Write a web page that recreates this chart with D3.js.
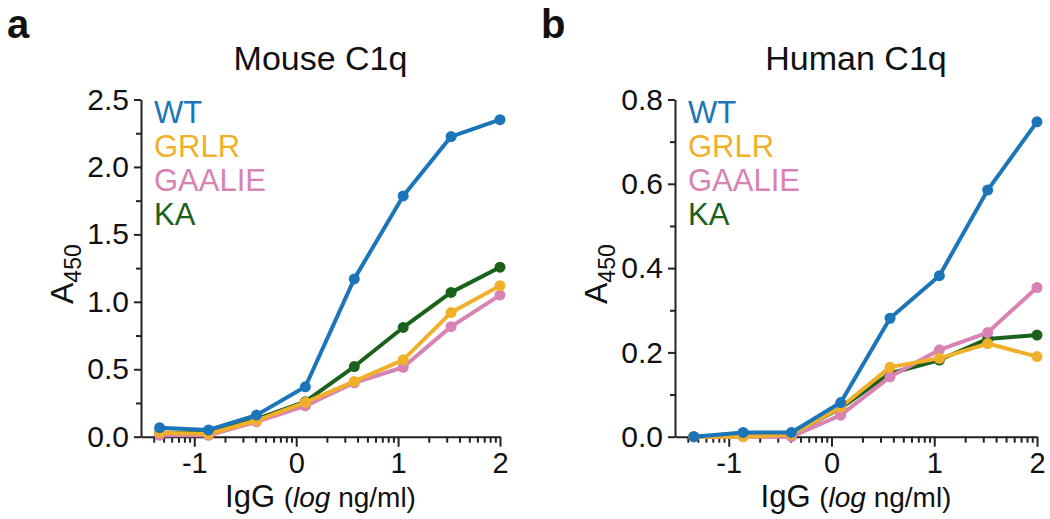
<!DOCTYPE html>
<html>
<head>
<meta charset="utf-8">
<script src="https://cdn.jsdelivr.net/npm/d3@7/dist/d3.min.js"></script>
<style>
  html, body { margin: 0; padding: 0; background: #fff; }
  svg { display: block; font-family: "Liberation Sans", Arial, sans-serif; }
</style>
</head>
<body>
<svg id="chart" width="1050" height="519"></svg>
<script>
// ---- Data (x = log10 IgG ng/ml) ----
const xLog = [-1.34, -0.86, -0.39, 0.09, 0.57, 1.05, 1.52, 2.0];
const seriesNames = ["WT", "GRLR", "GAALIE", "KA"];
const seriesColors = ["#1b75b8", "#f0b02a", "#d982b4", "#1a621b"];

// Panel a: Mouse C1q
const mouseWT     = [0.067, 0.05, 0.16, 0.37, 1.17, 1.785, 2.225, 2.35];
const mouseGRLR   = [0.03, 0.02, 0.12, 0.255, 0.41, 0.57, 0.92, 1.12];
const mouseGAALIE = [0.01, 0.01, 0.11, 0.228, 0.40, 0.515, 0.816, 1.05];
const mouseKA     = [0.03, 0.03, 0.13, 0.26, 0.52, 0.81, 1.07, 1.257];

// Panel b: Human C1q
const humanWT     = [0.0, 0.01, 0.01, 0.081, 0.281, 0.382, 0.585, 0.747];
const humanGRLR   = [0.0, 0.0, 0.005, 0.07, 0.165, 0.186, 0.221, 0.19];
const humanGAALIE = [0.0, 0.0, 0.0, 0.051, 0.142, 0.206, 0.247, 0.354];
const humanKA     = [0.0, 0.005, 0.005, 0.068, 0.15, 0.182, 0.232, 0.241];

const xMajorTicks = [-1, 0, 1, 2];
const xTickLabels = ["-1", "0", "1", "2"];
const xDomain = [Math.log10(0.03), 2];
const mouseYTicks = [0.0, 0.5, 1.0, 1.5, 2.0, 2.5];
const humanYTicks = [0.0, 0.2, 0.4, 0.6, 0.8];

const panels = [
  { letter: "a", title: "Mouse C1q", left: 141, right: 500, yMax: 2.5, yTicks: mouseYTicks,
    yMinorStep: 0.25, yFmt: d3.format(".1f"),
    series: { WT: mouseWT, GRLR: mouseGRLR, GAALIE: mouseGAALIE, KA: mouseKA } },
  { letter: "b", title: "Human C1q", left: 675, right: 1037, yMax: 0.8, yTicks: humanYTicks,
    yMinorStep: 0.1, yFmt: d3.format(".1f"),
    series: { WT: humanWT, GRLR: humanGRLR, GAALIE: humanGAALIE, KA: humanKA } }
];

const svg = d3.select("#chart");
const plotTop = 99.5, plotBottom = 436.7;
const axisColor = "#222";
const drawOrder = ["KA", "GAALIE", "GRLR", "WT"];

panels.forEach((p, pi) => {
  const g = svg.append("g");
  const x = d3.scaleLinear().domain(xDomain).range([p.left, p.right]);
  const y = d3.scaleLinear().domain([0, p.yMax]).range([plotBottom, plotTop]);

  // minor x ticks (log-spaced)
  const minorX = d3.scaleLog().domain([Math.pow(10, xDomain[0]), 100]).ticks()
    .map(v => Math.log10(v))
    .filter(v => v > xDomain[0] + 0.01 && !xMajorTicks.some(m => Math.abs(m - v) < 1e-6));

  // X axis
  const xAxis = d3.axisBottom(x).tickValues(xMajorTicks).tickSize(10).tickSizeOuter(0)
    .tickPadding(6).tickFormat((d, i) => xTickLabels[i]);
  const gx = g.append("g").attr("transform", `translate(0,${plotBottom})`).call(xAxis);
  gx.select(".domain").attr("stroke", axisColor).attr("stroke-width", 2);
  gx.selectAll(".tick line").attr("stroke", axisColor).attr("stroke-width", 2);
  gx.selectAll(".tick text").attr("fill", "#111").style("font-size", "29px")
    .attr("font-family", "Liberation Sans, Arial, sans-serif");
  const gxm = g.append("g").attr("transform", `translate(0,${plotBottom})`)
    .call(d3.axisBottom(x).tickValues(minorX).tickSize(6).tickSizeOuter(0).tickFormat(""));
  gxm.select(".domain").remove();
  gxm.selectAll(".tick line").attr("stroke", axisColor).attr("stroke-width", 2);

  // Y axis
  const yAxis = d3.axisLeft(y).tickValues(p.yTicks).tickSize(7).tickSizeOuter(0)
    .tickPadding(5).tickFormat(p.yFmt);
  const gy = g.append("g").attr("transform", `translate(${p.left},0)`).call(yAxis);
  gy.select(".domain").attr("stroke", axisColor).attr("stroke-width", 2);
  gy.selectAll(".tick line").attr("stroke", axisColor).attr("stroke-width", 2);
  gy.selectAll(".tick text").attr("fill", "#111").style("font-size", "30px")
    .attr("font-family", "Liberation Sans, Arial, sans-serif");
  const minorY = d3.range(p.yMinorStep, p.yMax, p.yMinorStep * 2);
  const gym = g.append("g").attr("transform", `translate(${p.left},0)`)
    .call(d3.axisLeft(y).tickValues(minorY).tickSize(5).tickSizeOuter(0).tickFormat(""));
  gym.select(".domain").remove();
  gym.selectAll(".tick line").attr("stroke", axisColor).attr("stroke-width", 2);

  // Lines and points
  const line = d3.line().x((d, i) => x(xLog[i])).y(d => y(d));
  drawOrder.forEach(name => {
    const idx = seriesNames.indexOf(name);
    const col = seriesColors[idx];
    const vals = p.series[name];
    g.append("path").datum(vals).attr("d", line).attr("fill", "none")
      .attr("stroke", col).attr("stroke-width", 4).attr("stroke-linejoin", "round");
    g.selectAll(null).data(vals).enter().append("circle")
      .attr("cx", (d, i) => x(xLog[i])).attr("cy", d => y(d)).attr("r", 5.5)
      .attr("fill", col);
  });

  // Legend
  seriesNames.forEach((name, i) => {
    g.append("text").attr("x", p.left + 13).attr("y", 123 + i * 34)
      .attr("fill", seriesColors[i]).style("font-size", "31px").text(name);
  });

  // Title
  g.append("text").attr("x", (p.left + p.right) / 2).attr("y", 70)
    .attr("text-anchor", "middle").attr("fill", "#111").style("font-size", "34px").text(p.title);

  // Panel letter
  g.append("text").attr("x", p.left - 134).attr("y", 38)
    .attr("fill", "#111").style("font-size", "40px").style("font-weight", "bold").text(p.letter);

  // X title
  const xt = g.append("text").attr("x", (p.left + p.right) / 2).attr("y", 507)
    .attr("text-anchor", "middle").attr("fill", "#111").style("font-size", "31px");
  xt.append("tspan").text("IgG ");
  xt.append("tspan").style("font-size", "28px").text("(");
  xt.append("tspan").style("font-size", "28px").style("font-style", "italic").text("log");
  xt.append("tspan").style("font-size", "28px").text(" ng/ml)");

  // Y title
  const yt = g.append("text").attr("transform", `translate(${p.left - 68},304) rotate(-90)`)
    .attr("fill", "#111").style("font-size", "32px");
  yt.append("tspan").text("A");
  yt.append("tspan").attr("dy", 8).style("font-size", "23px").text("450");
});
</script>
</body>
</html>
